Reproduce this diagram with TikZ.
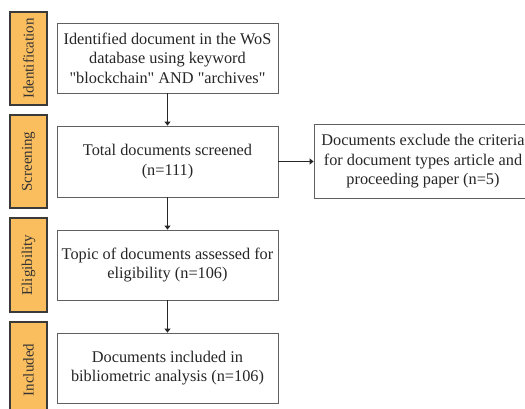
\documentclass[tikz,border=0pt]{standalone}
\usepackage{fontspec}
\setmainfont{Liberation Serif}
\usetikzlibrary{arrows.meta}
\definecolor{barfill}{HTML}{FBBE5E}
\definecolor{barline}{HTML}{3A3A3A}
\definecolor{boxline}{HTML}{606060}
\begin{document}
\begin{tikzpicture}[x=1pt,y=-1pt,
  stagebar/.style={draw=barline,line width=1.1pt,fill=barfill,inner sep=0pt},
  stagetext/.style={rotate=90,font=\fontsize{15}{17}\selectfont,text=black!80},
  mainbox/.style={draw=boxline,line width=0.8pt,fill=white,inner sep=0pt},
  boxtext/.style={align=center,font=\fontsize{16.3}{19.5}\selectfont,text=black!85},
  flow/.style={-{Triangle[length=4pt,width=6pt]},line width=1.6pt,draw=black!85}
]
\useasboundingbox (0,0) rectangle (525,409);
\begin{scope}
\clip (0,0) rectangle (525,409);
% stage bars
\node[stagebar,minimum width=37pt,minimum height=93pt] (b1) at (28.5,58.5) {};
\node[stagebar,minimum width=37pt,minimum height=93pt] (b2) at (28.5,161.5) {};
\node[stagebar,minimum width=37pt,minimum height=94pt] (b3) at (28.5,265) {};
\node[stagebar,minimum width=37pt,minimum height=96pt] (b4) at (28.5,370) {};
\node[stagetext] at (b1) {Identification};
\node[stagetext] at (b2) {Screening};
\node[stagetext] at (b3) {Eligibility};
\node[stagetext] at (b4) {Included};
% main boxes
\node[mainbox,minimum width=221pt,minimum height=70pt] (m1) at (167.5,58) {};
\node[mainbox,minimum width=221pt,minimum height=71pt] (m2) at (167.5,161.5) {};
\node[mainbox,minimum width=221pt,minimum height=70pt] (m3) at (167.5,265) {};
\node[mainbox,minimum width=221pt,minimum height=70pt] (m4) at (167.5,368) {};
\node[mainbox,minimum width=220pt,minimum height=74pt] (r2) at (424,161.5) {};
\node[boxtext] at (m1) {Identified document in the WoS\\database using keyword\\\textquotedbl blockchain\textquotedbl{} AND \textquotedbl archives\textquotedbl};
\node[boxtext] at (m2) {Total documents screened\\(n=111)};
\node[boxtext] at (m3) {Topic of documents assessed for\\eligibility (n=106)};
\node[boxtext] at (m4) {Documents included in\\bibliometric analysis (n=106)};
\node[boxtext] at (423,161.5) {Documents exclude the criteria\\for document types article and\\proceeding paper (n=5)};
% connectors
\draw[flow] (m1.south) -- (m2.north);
\draw[flow] (m2.south) -- (m3.north);
\draw[flow] (m3.south) -- (m4.north);
\draw[flow,line width=1.3pt] (m2.east) -- (r2.west);
\end{scope}
\end{tikzpicture}
\end{document}
